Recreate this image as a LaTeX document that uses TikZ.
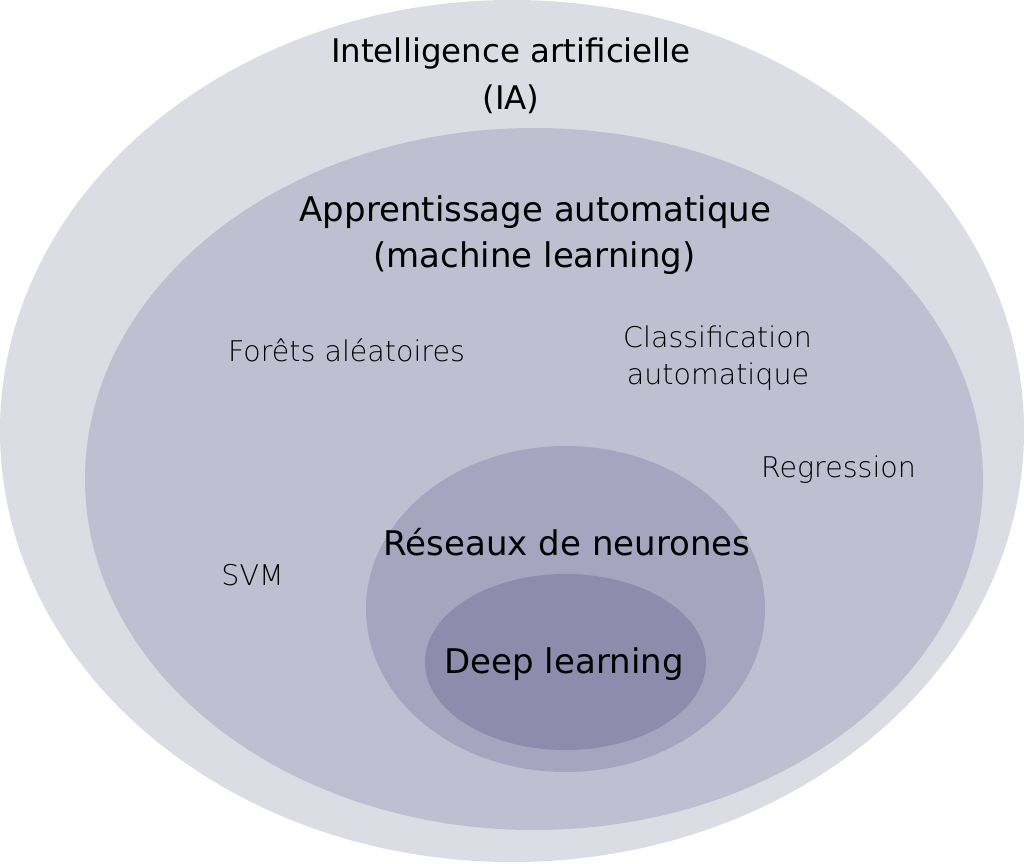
\documentclass[tikz,border=0pt]{standalone}
\usepackage{fontspec}
\setmainfont{DejaVu Sans}
\newfontfamily\lightfont{DejaVu Sans ExtraLight}
\usepackage{xcolor}
\usepackage{tikz}

\definecolor{iacol}{RGB}{220,220,228}
\definecolor{mlcol}{RGB}{192,191,209}
\definecolor{nncol}{RGB}{166,165,192}
\definecolor{dlcol}{RGB}{142,140,172}

\begin{document}
\begin{tikzpicture}[x=1pt,y=-1pt,
  big/.style={font=\fontsize{34}{40}\selectfont, anchor=base, inner sep=0pt},
  small/.style={font=\lightfont\fontsize{28.5}{32}\selectfont, text=black, anchor=base, inner sep=0pt}]
\useasboundingbox[fill=white] (0,0) rectangle (1024,863);
\fill[iacol] (512,431) ellipse [x radius=512, y radius=431];
\fill[mlcol] (534,479) ellipse [x radius=449, y radius=351];
\fill[nncol] (565.5,609) ellipse [x radius=199.5, y radius=163];
\fill[dlcol] (565.5,662) ellipse [x radius=140.5, y radius=88];
\node[big, font=\fontsize{32.5}{40}\selectfont] (ia) at (511,62) {Intelligence artificielle};
\node[big, font=\fontsize{32.5}{40}\selectfont] (ia2) at (511,109) {(IA)};
\node[big] (ml) at (535.5,221) {Apprentissage automatique};
\node[big] (ml2) at (534.5,267) {(machine learning)};
\node[big] (nn) at (567,555) {Réseaux de neurones};
\node[big] (dl) at (564,673) {Deep learning};
\node[small] (rf) at (346.5,361) {Forêts aléatoires};
\node[small] (cl) at (717.5,347) {Classification};
\node[small] (cl2) at (718,384) {automatique};
\node[small] (reg) at (838.5,477) {Regression};
\node[small] (svm) at (252.5,585) {SVM};
\end{tikzpicture}
\end{document}
